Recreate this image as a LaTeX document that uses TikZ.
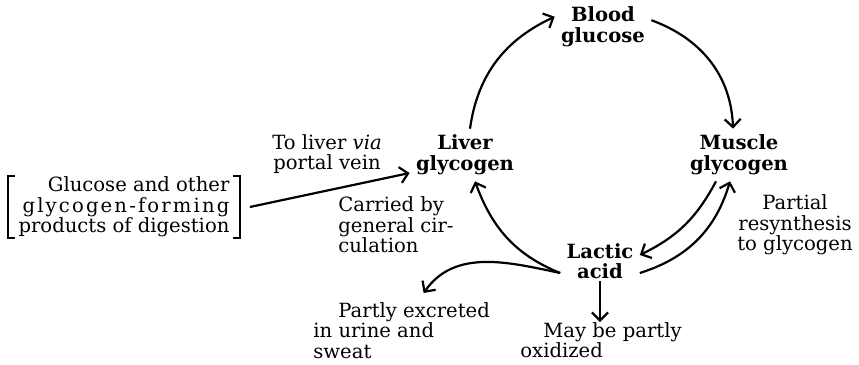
\documentclass[tikz,border=0pt]{standalone}
\usepackage{fontspec}
\setmainfont{DejaVu Serif}
\usetikzlibrary{arrows.meta,positioning}

\begin{document}
\begin{tikzpicture}[x=0.5pt,y=-0.5pt,
  every node/.style={font=\fontsize{9.8}{10.3}\selectfont,inner sep=0pt},
  stage/.style={font=\fontsize{9.8}{10.3}\selectfont\bfseries,align=center,inner sep=3pt},
  flow/.style={line width=1.1pt,-{Straight Barb[length=4pt,width=8pt]}},
  brk/.style={line width=0.9pt}]
\useasboundingbox (0,0) rectangle (859,365);
% stages of the cycle
\node[stage] (blood) at (603,27) {Blood\\glucose};
\node[stage] (liver) at (465,155) {Liver\\glycogen};
\node[stage] (muscle) at (739,155) {Muscle\\glycogen};
\node[stage] (lactic) at (600,261) {Lactic\\acid};
% notes
\node[align=center] (portal) at (327,154) {To liver \textit{via}\\portal vein};
\node[align=right] (digest) at (124,207) {Glucose and other\\{\addfontfeatures{LetterSpace=11}glycogen-forming}\\products of digestion};
\draw[brk] ([xshift=-1.5pt]digest.north west) -| ([xshift=-5pt]digest.south west) -- ([xshift=-1.5pt]digest.south west);
\draw[brk] ([xshift=1.5pt]digest.north east) -| ([xshift=5pt]digest.south east) -- ([xshift=1.5pt]digest.south east);
\node[align=left,anchor=west] (carried) at (338,225) {Carried by\\general cir-\\culation};
\node[align=center] (partial) at (795,225) {Partial\\resynthesis\\to glycogen};
\node[align=left,anchor=north west] (excreted) at (313,302) {\hspace*{12.5pt}Partly excreted\\in urine and\\sweat};
\node[align=left,anchor=north west] (oxidized) at (520,322) {\hspace*{11.5pt}May be partly\\oxidized};
% arrows
\draw[flow] ([xshift=10pt]digest.east) -- ([yshift=-9pt]liver.west);
\draw[flow] ([xshift=2.5pt]liver.north) to[out=82,in=205] (blood.168);
\draw[flow] (blood.8) to[out=-20,in=92] ([xshift=-3pt]muscle.north);
\draw[flow] ([xshift=-11.5pt]muscle.south) to[bend left=18] ([yshift=3pt]lactic.east);
\draw[flow] ([yshift=-6pt]lactic.east) to[bend right=28] ([xshift=-4.5pt]muscle.south);
\draw[flow] ([yshift=-6pt]lactic.west) to[out=158,in=290] ([xshift=5pt]liver.south);
\draw[flow] ([yshift=-6pt]lactic.west) to[out=168,in=55] ([shift={(22,-9)}]excreted.north);
\draw[flow] ([yshift=2pt]lactic.south) -- (lactic.south |- oxidized.north);
\end{tikzpicture}
\end{document}
